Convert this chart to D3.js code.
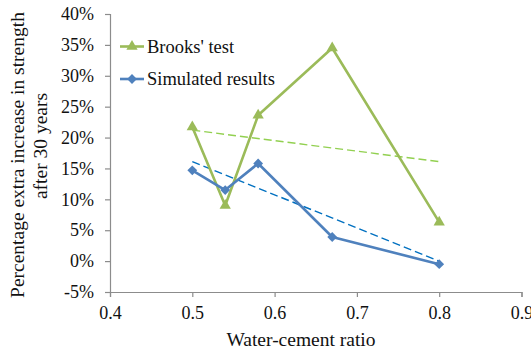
<!DOCTYPE html>
<html><head><meta charset="utf-8">
<script src="https://cdn.jsdelivr.net/npm/d3@7"></script>
<style>body{margin:0;background:#fff}svg{display:block} svg text{font-family:"Liberation Serif","Times New Roman",serif !important;}</style>
</head><body><svg id="c" width="531" height="351" style="font-family:'Liberation Serif',serif"></svg>
<script>
const ratios = [0.5, 0.54, 0.58, 0.67, 0.8];
const brooks = [21.7, 9.0, 23.6, 34.5, 6.3];
const simulated = [14.7, 11.5, 15.8, 3.9, -0.5];
const trendX = [0.5, 0.8];
const brooksTrend = [21.2, 16.1];
const simTrend = [16.1, 0.0];
const xTicks = [0.4, 0.5, 0.6, 0.7, 0.8, 0.9];
const yTicks = [-5, 0, 5, 10, 15, 20, 25, 30, 35, 40];
const seriesNames = ["Brooks' test", "Simulated results"];

const svg = d3.select("#c");
const L = 110, R = 521.5, T = 14, B = 292;
const x = d3.scaleLinear().domain([0.4, 0.9]).range([L, R]);
const y = d3.scaleLinear().domain([-5, 40]).range([B, T]);
const axisCol = "#8c8c8c";
const green = "#9bbb59", blue = "#4f81bd";

const xa = svg.append("g").attr("transform", `translate(0,${B})`)
  .call(d3.axisBottom(x).tickValues(xTicks).tickFormat(d3.format(".1f")).tickSizeOuter(0).tickSize(5).tickPadding(9));
const ya = svg.append("g").attr("transform", `translate(${L},0)`)
  .call(d3.axisLeft(y).tickValues(yTicks).tickFormat(d => d + "%").tickSizeOuter(0).tickSize(5).tickPadding(11));
[xa, ya].forEach(g => {
  g.attr("font-family", null).attr("font-size", null);
  g.select(".domain").attr("stroke", axisCol).attr("stroke-width", 1.2);
  g.selectAll(".tick line").attr("stroke", axisCol).attr("stroke-width", 1.2);
  g.selectAll("text").attr("font-size", 18).attr("fill", "#111");
});

const line = d3.line().x(d => x(d[0])).y(d => y(d[1]));
// trendlines
svg.append("path").datum(d3.zip(trendX, brooksTrend)).attr("d", line)
  .attr("fill", "none").attr("stroke", "#92d050").attr("stroke-width", 1.4).attr("stroke-dasharray", "8,4");
svg.append("path").datum(d3.zip(trendX, simTrend)).attr("d", line)
  .attr("fill", "none").attr("stroke", "#0070c0").attr("stroke-width", 1.4).attr("stroke-dasharray", "8,4");

const tri = d3.symbol().type(d3.symbolTriangle).size(55);
const dia = d3.symbol().type(d3.symbolSquare).size(48);

function drawSeries(vals, col, kind) {
  const pts = d3.zip(ratios, vals);
  svg.append("path").datum(pts).attr("d", line).attr("fill", "none")
    .attr("stroke", col).attr("stroke-width", 2.6).attr("stroke-linejoin", "round");
  svg.append("g").selectAll("path").data(pts).join("path")
    .attr("d", kind === "tri" ? tri : dia)
    .attr("transform", d => `translate(${x(d[0])},${y(d[1])})` + (kind === "tri" ? "" : " rotate(45)"))
    .attr("fill", col);
}
drawSeries(brooks, green, "tri");
drawSeries(simulated, blue, "dia");

// legend
const lg = svg.append("g");
[[green, "tri", 46.5], [blue, "dia", 79]].forEach((s, i) => {
  lg.append("line").attr("x1", 120).attr("x2", 144).attr("y1", s[2]).attr("y2", s[2])
    .attr("stroke", s[0]).attr("stroke-width", 2.6);
  lg.append("path").attr("d", s[1] === "tri" ? tri : dia)
    .attr("transform", `translate(132,${s[2]})` + (s[1] === "tri" ? "" : " rotate(45)"))
    .attr("fill", s[0]);
  lg.append("text").attr("x", 147).attr("y", s[2]).attr("dy", "0.35em")
    .attr("font-size", 18.5).attr("fill", "#111").text(seriesNames[i]);
});

// axis titles
svg.append("text").attr("x", 301).attr("y", 346).attr("text-anchor", "middle")
  .attr("font-size", 19.5).attr("fill", "#111").text("Water-cement ratio");
svg.append("text").attr("transform", "translate(24,155) rotate(-90)").attr("text-anchor", "middle")
  .attr("font-size", 19.5).attr("fill", "#111").text("Percentage extra increase in strength");
svg.append("text").attr("transform", "translate(47,146) rotate(-90)").attr("text-anchor", "middle")
  .attr("font-size", 19.5).attr("fill", "#111").text("after 30 years");
</script></body></html>
